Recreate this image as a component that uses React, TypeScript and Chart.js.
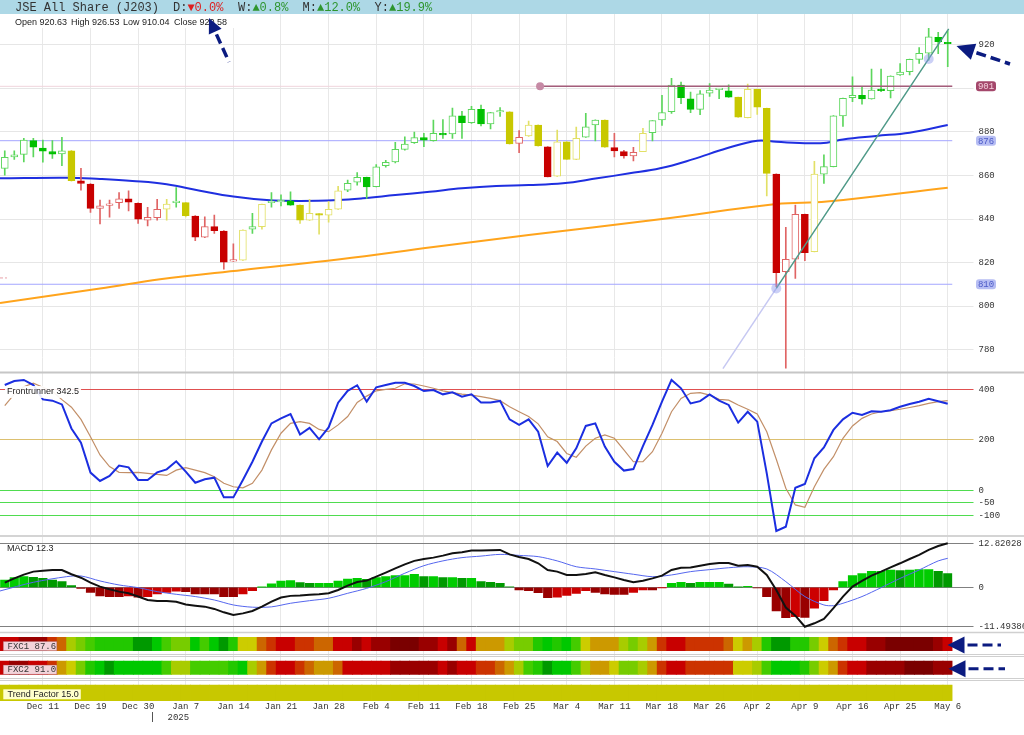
import React, { useEffect, useRef } from 'react';
import { Chart, registerables } from 'chart.js';

Chart.register(...registerables);

// ---------------- data ----------------
const opens = [863.3,868.6,869.7,876.0,872.6,871.0,869.9,871.4,857.5,856.1,
844.9,846.3,847.5,849.3,847.2,839.5,840.6,844.5,847.5,847.5,
841.4,831.6,836.5,834.5,820.6,821.1,835.3,836.5,847.5,847.8,
848.4,846.4,839.5,842.4,841.8,844.5,853.3,856.9,859.2,854.9,
864.5,866.3,872.0,875.1,877.4,876.0,879.4,879.1,887.4,884.3,
890.4,883.7,889.2,889.3,874.8,878.2,883.2,873.2,859.7,875.5,
867.4,877.6,883.2,885.5,872.8,871.0,869.0,871.0,879.7,885.5,
889.3,901.6,895.2,890.4,897.8,899.5,898.9,896.0,886.6,899.6,
890.9,860.7,815.8,821.5,842.2,825.0,860.6,864.1,887.4,895.8,
896.9,895.2,899.3,899.0,906.2,907.7,913.4,916.2,923.5,920.63];

const highs = [871.4,871.4,877.1,877.1,876.3,876.0,877.6,871.6,863.3,856.3,
848.7,848.7,852.1,852.9,847.4,845.4,849.0,849.0,854.4,847.7,
841.6,841.0,841.8,834.7,828.6,835.0,842.6,846.9,852.1,851.1,
852.5,846.5,849.0,842.5,848.0,855.0,857.9,861.3,859.3,865.0,
867.0,875.2,877.8,880.0,879.4,885.5,885.7,891.0,889.5,891.8,
892.4,889.0,891.2,889.4,880.6,885.0,883.3,873.3,880.9,875.6,
882.3,888.6,885.6,885.6,879.4,871.6,873.0,881.7,885.3,896.9,
904.7,903.0,898.3,899.0,902.3,899.7,901.7,896.1,902.0,899.7,
891.0,860.8,836.2,846.4,842.3,866.5,869.5,887.5,895.6,905.4,
900.5,908.9,908.9,905.8,911.5,913.5,918.8,927.7,925.8,926.53];

const lows = [860.2,867.4,866.3,868.5,866.1,867.9,864.5,857.4,853.3,843.0,
837.7,840.8,844.9,843.7,838.0,836.8,839.5,839.5,845.4,841.0,
830.0,831.4,833.4,816.9,820.5,821.0,833.4,835.3,845.4,846.0,
846.3,838.0,839.4,833.0,838.5,844.4,852.6,855.6,849.5,854.8,
863.8,865.8,871.7,874.8,873.2,875.8,877.0,877.0,877.0,884.0,
882.8,881.4,887.2,874.4,870.5,878.0,873.5,859.3,859.6,867.3,
867.3,877.5,875.9,872.9,868.6,868.0,866.7,870.9,875.9,883.0,
888.5,893.0,888.9,888.0,896.4,895.3,895.9,886.7,886.5,888.1,
850.6,808.9,771.4,812.7,820.8,824.9,856.4,864.0,882.6,894.0,
892.8,895.1,898.5,895.7,906.0,906.2,911.5,913.0,916.0,910.04];

const closes = [868.4,869.5,876.3,873.0,871.2,869.8,871.3,857.6,856.4,844.9,
846.0,846.9,849.3,847.7,839.9,840.8,844.5,846.9,847.7,841.5,
831.6,836.5,834.6,820.1,821.1,834.9,836.5,846.8,847.7,848.7,
846.4,839.5,842.6,841.8,844.5,853.0,856.4,859.2,854.8,864.0,
866.1,872.0,874.5,877.4,876.3,879.4,878.6,887.4,884.3,890.4,
883.7,888.9,889.4,874.5,877.6,883.2,873.6,859.4,875.5,867.4,
877.1,882.4,885.5,873.0,871.3,869.0,870.7,879.4,885.2,888.9,
901.6,895.8,890.4,897.5,899.3,899.7,896.0,886.8,899.6,891.4,
861.0,815.3,821.5,842.2,824.5,860.6,864.1,887.4,895.5,896.9,
895.2,899.3,899.0,905.7,907.6,913.4,916.2,923.8,921.5,920.58];

// candle tone per bar: g = green, r = red, y = yellow
const candleTone = ['gggggggyrr','rrrrrrrygy','rrrrrygygg','gyyyyygggg','gggggggggg',
  'gggyryyryy','yggyrrrygg','gggggggyyy','yrrrrygggg','gggggggggg'].join('');

// moving averages (bar index, value)
const ma50X = [-0.5,6.5,10,13.4,17,20.5,24,27.5,31,35,37.6,41,44.6,48,51.6,55,58.6,62.2,65.6,68.8,72.2,75.8,79,81,84.5,86.3,88,91.5,95,99];
const ma50Y = [858.7,859.0,858.4,857.5,856.0,853.0,850.3,848.7,848.3,848.7,849.5,851.0,852.5,854.1,855.2,855.6,856.4,858.7,861.0,863.3,867.4,872.5,876.0,875.5,874.8,875.1,876.6,878.2,879.7,883.2];
const ma200X = [-0.5,10,16.3,25,35.2,45,55,68.8,81,86.3,99];
const ma200Y = [801.4,808.0,812.3,816.6,821.5,827.1,832.6,839.9,846.9,848.0,854.4];

// horizontal levels
const resistanceLevel = 901;
const resistanceFrom = 56.2;
const upperLevel = 876;
const lowerLevel = 810;
const leftMarkLevel = 812.9;

// trend line (bar index, price)
const trendX = [75.4, 81, 97, 99.1];
const trendY = [771.2, 808.1, 913.6, 927.4];

// Frontrunner oscillator
const frontrunner = [417,433,437,417,360,355,340,245,189,70,
37,57,98,91,41,41,71,83,115,74,
30,44,50,-28,-28,41,113,193,265,285,
302,221,247,202,249,347,394,416,351,408,
417,426,426,413,393,397,380,388,371,380,
348,348,354,281,259,281,232,96,149,109,
166,255,265,173,113,78,84,175,259,351,
437,404,344,353,380,355,338,268,311,272,
67,-161,-144,10,25,127,170,239,281,307,
298,313,311,317,331,342,351,362,353,342.5];
const frontrunnerSignal = [335,381,410,424,408,392,359,329,281,212,
140,94,71,70,71,67,63,59,80,90,
80,70,54,28,14,10,28,80,160,226,
265,272,265,241,232,259,292,348,373,394,
400,404,422,421,413,404,394,387,381,377,
371,364,355,331,311,292,263,212,193,146,
131,175,206,219,206,160,113,113,153,226,
311,364,384,387,377,360,357,338,321,302,
232,123,8,-58,-67,14,83,133,206,255,
285,302,311,315,321,328,335,344,351,355];

// MACD
const macdLine = [1.36,2.6,3.7,4.57,4.86,5.05,5.05,3.8,2.8,1.36,
0.2,-0.58,-1.26,-1.75,-2.7,-3.7,-4.0,-4.0,-4.2,-5.0,
-5.35,-5.64,-6.3,-7.3,-8.07,-7.6,-6.9,-5.64,-4.2,-3.0,
-2.5,-2.4,-2.2,-2.04,-1.75,-0.78,0.49,1.55,1.94,3.1,
4.3,5.5,6.7,7.7,8.26,8.65,9.23,9.9,10.2,10.7,
10.7,10.8,10.9,9.6,8.84,8.26,7.0,5.05,4.57,3.6,
3.6,3.9,4.37,3.6,2.9,2.14,1.46,1.94,2.6,3.4,
5.05,5.7,5.8,6.3,6.8,7.1,7.1,6.3,6.5,6.0,
3.6,-0.78,-5.9,-8.26,-11.49386,-10.5,-9.23,-6.1,-2.7,0.19,
1.85,3.4,4.57,5.83,7.0,8.26,9.43,10.9,12.05,12.82028];
const macdHist = [2.14,2.8,3.1,2.9,2.6,2.1,1.65,0.5,-0.3,-1.46,
-2.5,-2.7,-2.7,-2.5,-2.9,-2.7,-1.9,-1.5,-1.1,-1.26,
-1.9,-1.9,-1.9,-2.7,-2.7,-1.9,-1.0,0.05,1.0,1.85,
1.95,1.36,1.17,1.17,1.17,1.85,2.4,2.6,2.3,2.8,
3.1,3.4,3.4,3.8,3.1,3.1,2.8,2.8,2.6,2.6,
1.65,1.46,1.17,0.1,-0.8,-1.0,-1.55,-3.0,-2.9,-2.4,
-1.75,-1.0,-1.46,-1.94,-2.04,-2.04,-1.46,-0.8,-0.8,-0.05,
1.17,1.46,1.17,1.46,1.46,1.46,0.97,0.05,0.3,-0.2,
-2.7,-6.9,-8.86,-8.55,-8.75,-6.1,-3.9,-0.8,1.65,3.4,
4.0,4.66,4.66,5.05,4.86,5.05,5.15,5.15,4.66,4.0];
const signalX = [-0.5,3,6.5,8,10,12,14,16,18,20,22,24,26,28,30,32,34,36,38,40,42,44,46,48,50,52,54,56,58,60,62,64,66,68,70,72,74,76,78,80,82,84,86,87,88,90,92,94,96,98,99];
const signalY = [-1.07,1.46,3.1,3.3,1.85,0.68,-0.1,-1.26,-2.04,-2.7,-3.7,-5.15,-5.8,-5.7,-4.66,-3.9,-3.2,-1.75,-0.3,1.65,4.1,6.3,7.7,8.65,9.1,9.6,9.3,8.94,7.7,6.0,5.35,4.57,3.8,3.1,3.6,4.57,5.15,5.7,6.0,5.35,1.65,-2.7,-5.15,-5.35,-4.66,-2.7,-0.1,2.6,5.05,7.7,8.45];

// heat bands (level code per bar)
const fxc1 = ['ccbbbdehij','kkkkmmljii','ljlmkggedc','cddeeccbcb','baaabbcbec',
  'fffhiiklkl','jgfffhihfd','ccddddegfh','kmmkkigedc','cbbaaaaabc'].join('');
const fxc2 = ['cbbccdfgik','lmllllljhh','jjjjklhfdc','cdeffecccc','cbbbbbcbcc',
  'ddefhjkmll','jhffgiihfd','ccdddddggh','jlllkigfdc','cbbbbaaabb'].join('');
const trendFactor = ['tttttttttt','tttttttttt','tttttttttt','tttttttttt','tttttttttt',
  'tttttttttt','tttttttttt','tttttttttt','tttttttttt','tttttttttt'].join('');

const tickIndex = [4,9,14,19,24,29,34,39,44,49,54,59,64,69,74,79,84,89,94,99];
const tickLabels = ['Dec 11','Dec 19','Dec 30','Jan 7','Jan 14','Jan 21','Jan 28','Feb 4','Feb 11','Feb 18',
  'Feb 25','Mar 4','Mar 11','Mar 18','Mar 26','Apr 2','Apr 9','Apr 16','Apr 25','May 6'];
const priceTicks = [780,800,820,840,860,880,900,920];
const oscTicks = [400,200,0,-50,-100];
const macdTicks = [12.82028,0,-11.49386];

// ---------------- styling ----------------
const MONO = '"Liberation Mono", "DejaVu Sans Mono", monospace';
const SANS = '"Liberation Sans", Arial, sans-serif';
const toneFill: Record<string, string> = { g: '#00c000', r: '#c80000', y: '#c8c800' };
const toneLine: Record<string, string> = { g: '#5cd65c', r: '#e06464', y: '#e2e066' };
const heat: Record<string, string> = {
  a: '#7a0000', b: '#990000', c: '#c80000', d: '#cc3300', e: '#cc6600', f: '#cc9900',
  g: '#cccc00', h: '#a8cc00', i: '#77cc00', j: '#44cc00', k: '#22c800', l: '#00c800', m: '#009900',
  t: '#c8c800',
};
const bandRows = { fxc1: [4.8, 18.2], fxc2: [28.5, 41.8], trend: [52.5, 68.5] };

const idx = opens.map((_, i) => i);
const hollow = idx.map((i) => closes[i] >= opens[i]);

const histColor = macdHist.map((v, i) => {
  const prev = i > 0 ? macdHist[i - 1] : v;
  if (v >= 0) return v >= prev ? '#00cc00' : '#009a00';
  return v <= prev ? '#990000' : '#cc0000';
});

const overlay = {
  id: 'overlay',
  beforeDraw(chart: any) {
    const c = chart.ctx;
    c.save();
    c.fillStyle = '#ffffff';
    c.fillRect(0, 0, chart.width, chart.height);
    c.fillStyle = '#add8e6';
    c.fillRect(0, 0, chart.width, 14);
    c.font = '12px ' + MONO;
    c.textBaseline = 'middle';
    const segs: [string, number, string][] = [
      ['JSE All Share (J203)', 15, '#333'], ['D:', 173, '#333'], ['\u25BC0.0%', 187.4, '#dd1f1f'],
      ['W:', 238, '#333'], ['\u25B20.8%', 252.4, '#2e952e'], ['M:', 302.6, '#333'],
      ['\u25B212.0%', 317, '#2e952e'], ['Y:', 374.6, '#333'], ['\u25B219.9%', 389, '#2e952e'],
    ];
    for (const [t, x, col] of segs) { c.fillStyle = col; c.fillText(t, x, 7.5); }
    c.restore();
  },
  afterDraw(chart: any) {
    const c = chart.ctx;
    const W = chart.width;
    const { x, yP, yO, yM, yB } = chart.scales;
    c.save();
    const hline = (y: number, col: string, lw: number) => {
      c.strokeStyle = col; c.lineWidth = lw; c.setLineDash([]);
      c.beginPath(); c.moveTo(0, y); c.lineTo(W, y); c.stroke();
    };
    hline(yP.bottom, '#c6c6c6', 2);
    hline(yO.bottom + 1, '#d4d4d4', 2);
    hline(yM.bottom, '#d0d0d0', 1.5);
    [21.5, 23.5, 45.8, 47.5].forEach((v) => hline(Math.round(yB.getPixelForValue(v)) + 0.5, '#cfcfcf', 1));

    // small level stub at the left edge
    const ly = yP.getPixelForValue(leftMarkLevel);
    c.strokeStyle = '#e8a0a8'; c.lineWidth = 1; c.setLineDash([3, 2]);
    c.beginPath(); c.moveTo(0, ly); c.lineTo(7, ly); c.stroke();
    c.setLineDash([]);

    // OHLC readout
    c.fillStyle = '#ffffff';
    c.fillRect(0, yP.top, 236, 14);
    c.font = '9px ' + SANS;
    c.textBaseline = 'middle';
    c.fillStyle = '#222';
    const oy = yP.top + 9;
    c.fillText('Open ' + opens[99].toFixed(2), 15, oy);
    c.fillText('High ' + highs[99].toFixed(2), 71, oy);
    c.fillText('Low ' + lows[99].toFixed(2), 123, oy);
    c.fillText('Close ' + closes[99].toFixed(2), 174, oy);

    // price tags
    const tag = (text: string, v: number, bg: string, fg: string) => {
      const yc = yP.getPixelForValue(v);
      c.fillStyle = bg;
      c.beginPath();
      (c as any).roundRect(976, yc - 5, 20, 10, 3);
      c.fill();
      c.fillStyle = fg;
      c.font = '9px ' + MONO;
      c.textAlign = 'center';
      c.textBaseline = 'middle';
      c.fillText(text, 986, yc + 0.5);
      c.textAlign = 'left';
    };
    tag(String(resistanceLevel), resistanceLevel, '#a4476b', '#f6d2de');
    tag(String(upperLevel), upperLevel, '#b6bdf3', '#4d5bc8');
    tag(String(lowerLevel), lowerLevel, '#b6bdf3', '#4d5bc8');

    // panel labels
    const fr = 'Frontrunner ' + frontrunner[frontrunner.length - 1];
    c.font = '9px ' + SANS;
    c.fillStyle = 'rgba(255,255,255,0.9)';
    c.fillRect(5, yO.top + 13.5, c.measureText(fr).width + 4, 12);
    c.fillStyle = '#222';
    c.fillText(fr, 7, yO.top + 19.5);
    c.fillText('MACD 12.3', 7, yM.top + 13.5);

    // band labels
    const bandLabel = (text: string, row: number[], bg: string, font: string, w: number) => {
      const y1 = yB.getPixelForValue(row[1]);
      c.fillStyle = bg;
      c.fillRect(3.3, y1 - 9.2, w, 9.2);
      c.strokeStyle = 'rgba(150,80,90,0.35)';
      c.lineWidth = 0.8;
      c.strokeRect(3.3, y1 - 9.2, w, 9.2);
      c.fillStyle = '#333';
      c.font = font;
      c.fillText(text, 7.5, y1 - 4.3);
    };
    bandLabel('FXC1 87.6', bandRows.fxc1, '#f3d3da', '9px ' + MONO, 53.5);
    bandLabel('FXC2 91.0', bandRows.fxc2, '#f3d3da', '9px ' + MONO, 53.5);
    const ty = yB.getPixelForValue(bandRows.trend[0]);
    c.fillStyle = '#ffffcc';
    c.fillRect(3.3, ty + 4.3, 77.5, 10);
    c.fillStyle = '#222';
    c.font = '9px ' + SANS;
    c.fillText('Trend Factor 15.0', 7.5, ty + 9.5);

    // year marker
    const yx = Math.round(x.getPixelForValue(15.5)) + 0.5;
    c.strokeStyle = '#555'; c.lineWidth = 1;
    c.beginPath(); c.moveTo(yx, 712); c.lineTo(yx, 722); c.stroke();
    c.fillStyle = '#333'; c.font = '9px ' + MONO;
    c.fillText('2025', yx + 15, 717.5);

    // annotation arrows
    const arrow = (tx: number, ty2: number, sx: number, sy: number, hl: number, hw: number, lw: number) => {
      const a = Math.atan2(sy - ty2, sx - tx);
      const ca = Math.cos(a), sa = Math.sin(a);
      const bx = tx + ca * hl, by = ty2 + sa * hl;
      c.strokeStyle = '#0b1b80'; c.fillStyle = '#0b1b80';
      c.lineWidth = lw; c.setLineDash([10, 5]); c.lineCap = 'butt';
      c.beginPath(); c.moveTo(bx + ca * 3, by + sa * 3); c.lineTo(sx, sy); c.stroke();
      c.setLineDash([]);
      c.beginPath();
      c.moveTo(tx, ty2);
      c.lineTo(bx - sa * hw / 2, by + ca * hw / 2);
      c.lineTo(bx + sa * hw / 2, by - ca * hw / 2);
      c.closePath(); c.fill();
    };
    arrow(209, 18, 229, 62, 15, 14, 3.5);
    arrow(x.right + 4, yP.getPixelForValue(919.5), 1010, 64, 18, 17, 3.5);
    const f1 = yB.getPixelForValue((bandRows.fxc1[0] + bandRows.fxc1[1]) / 2) + 1;
    const f2 = yB.getPixelForValue((bandRows.fxc2[0] + bandRows.fxc2[1]) / 2) + 1;
    arrow(x.right - 5, f1, 1001, f1, 17, 17, 3);
    arrow(x.right - 4, f2, 1005, f2, 17, 17, 3);
    c.restore();
  },
};

function buildConfig(): any {
  const pts = (arr: number[]) => arr.map((v, i) => ({ x: i, y: v }));
  const pairs = (xs: number[], ys: number[]) => xs.map((v, i) => ({ x: v, y: ys[i] }));
  const tickFont = { family: MONO, size: 9 };
  const fixWidth = (s: any) => { s.width = 71.5; };

  const datasets: any[] = [
    {
      type: 'line', yAxisID: 'yP', order: 1, data: pairs(trendX, trendY),
      borderWidth: 1.5, borderColor: '#4f9a88',
      segment: { borderColor: (ctx: any) => (ctx.p0DataIndex === 0 ? '#c6c8f2' : '#4f9a88') },
      pointRadius: [0, 5, 5, 0], pointBackgroundColor: 'rgba(140,150,235,0.45)', pointBorderWidth: 0,
    },
    {
      type: 'line', yAxisID: 'yP', order: 2,
      data: [{ x: resistanceFrom, y: resistanceLevel }, { x: 99.5, y: resistanceLevel }],
      borderColor: '#a35d7a', borderWidth: 1.5,
      pointRadius: [4, 0], pointBackgroundColor: '#c68aa5', pointBorderWidth: 0,
    },
    {
      type: 'bar', yAxisID: 'yP', order: 3, grouped: false,
      data: idx.map((i) => ({ x: i, y: [opens[i], closes[i]] })),
      barThickness: 7, minBarLength: 1.5, borderSkipped: false, borderWidth: 1,
      backgroundColor: idx.map((i) => (hollow[i] ? '#ffffff' : toneFill[candleTone[i]])),
      borderColor: idx.map((i) => (hollow[i] ? toneLine[candleTone[i]] : toneFill[candleTone[i]])),
    },
    {
      type: 'bar', yAxisID: 'yP', order: 4, grouped: false,
      data: idx.map((i) => ({ x: i, y: [lows[i], highs[i]] })),
      barThickness: 1, borderWidth: 0,
      backgroundColor: idx.map((i) => toneLine[candleTone[i]]),
    },
    {
      type: 'line', yAxisID: 'yP', order: 5, data: pairs(ma50X, ma50Y),
      borderColor: '#1f2fe0', borderWidth: 2, pointRadius: 0, tension: 0.4,
    },
    {
      type: 'line', yAxisID: 'yP', order: 6, data: pairs(ma200X, ma200Y),
      borderColor: '#ffa41c', borderWidth: 2, pointRadius: 0, tension: 0.4,
    },
    {
      type: 'line', yAxisID: 'yP', order: 7,
      data: [{ x: -0.5, y: upperLevel }, { x: 99.5, y: upperLevel }],
      borderColor: '#a4a6ff', borderWidth: 1, pointRadius: 0,
    },
    {
      type: 'line', yAxisID: 'yP', order: 7,
      data: [{ x: -0.5, y: lowerLevel }, { x: 99.5, y: lowerLevel }],
      borderColor: '#a4a6ff', borderWidth: 1, pointRadius: 0,
    },
    {
      type: 'line', yAxisID: 'yP', order: 8,
      data: [{ x: -0.5, y: resistanceLevel }, { x: 99.5, y: resistanceLevel }],
      borderColor: '#f0d4dc', borderWidth: 1, pointRadius: 0,
    },
    {
      type: 'line', yAxisID: 'yO', order: 1, data: pts(frontrunner),
      borderColor: '#1b2ee0', borderWidth: 2, pointRadius: 0,
    },
    {
      type: 'line', yAxisID: 'yO', order: 2, data: pts(frontrunnerSignal),
      borderColor: '#c28f68', borderWidth: 1.2, pointRadius: 0,
    },
    {
      type: 'line', yAxisID: 'yM', order: 1, data: pts(macdLine),
      borderColor: '#111111', borderWidth: 2, pointRadius: 0,
    },
    {
      type: 'line', yAxisID: 'yM', order: 2, data: pairs(signalX, signalY),
      borderColor: '#5566ee', borderWidth: 1, pointRadius: 0, tension: 0.3,
    },
    {
      type: 'bar', yAxisID: 'yM', order: 3, grouped: false,
      data: pts(macdHist), barThickness: 8.5, borderWidth: 0,
      backgroundColor: histColor,
    },
    {
      type: 'bar', yAxisID: 'yB', order: 1, grouped: false,
      data: idx.map((i) => ({ x: i, y: bandRows.fxc1 })), barThickness: 9.7, borderWidth: 0,
      backgroundColor: idx.map((i) => heat[fxc1[i]]),
    },
    {
      type: 'bar', yAxisID: 'yB', order: 1, grouped: false,
      data: idx.map((i) => ({ x: i, y: bandRows.fxc2 })), barThickness: 9.7, borderWidth: 0,
      backgroundColor: idx.map((i) => heat[fxc2[i]]),
    },
    {
      type: 'bar', yAxisID: 'yB', order: 1, grouped: false,
      data: idx.map((i) => ({ x: i, y: bandRows.trend })), barThickness: 9.7, borderWidth: 0,
      backgroundColor: idx.map((i) => heat[trendFactor[i]]),
    },
  ];

  return {
    type: 'bar',
    data: { datasets },
    plugins: [overlay],
    options: {
      animation: false,
      responsive: false,
      maintainAspectRatio: false,
      events: [],
      layout: { autoPadding: false, padding: { top: 14, left: 0, right: 0, bottom: 0 } },
      plugins: { legend: { display: false }, tooltip: { enabled: false } },
      scales: {
        x: {
          type: 'linear', position: 'bottom', min: -0.5, max: 99.5, offset: false,
          grid: { color: '#e8e8e8', drawTicks: false, offset: false },
          border: { display: false },
          afterBuildTicks: (s: any) => { s.ticks = tickIndex.map((v) => ({ value: v })); },
          afterFit: (s: any) => { s.height = 34; s.paddingLeft = 0; s.paddingRight = 0; },
          ticks: {
            autoSkip: false, maxRotation: 0, padding: 0, color: '#333', font: tickFont,
            callback: (v: number) => tickLabels[tickIndex.indexOf(v)] ?? '',
          },
        },
        yP: {
          type: 'linear', position: 'right', stack: 'panes', stackWeight: 358.5, weight: 0,
          min: 769.43, max: 934.25,
          afterBuildTicks: (s: any) => { s.ticks = priceTicks.map((v) => ({ value: v })); },
          afterFit: fixWidth,
          grid: { color: '#e6e6e6', tickLength: 21, drawTicks: true },
          border: { display: false },
          ticks: { padding: 5, color: '#333', font: tickFont },
        },
        yO: {
          type: 'linear', position: 'right', stack: 'panes', stackWeight: 162.5, weight: 1,
          min: -177, max: 466.5,
          afterBuildTicks: (s: any) => { s.ticks = oscTicks.map((v) => ({ value: v })); },
          afterFit: fixWidth,
          grid: {
            tickLength: 21, drawTicks: true,
            color: (ctx: any) => {
              const v = ctx.tick ? ctx.tick.value : 0;
              return v === 400 ? '#e05050' : v === 200 ? '#dcc070' : '#4fdc4f';
            },
          },
          border: { display: false },
          ticks: { padding: 5, color: '#333', font: tickFont },
        },
        yM: {
          type: 'linear', position: 'right', stack: 'panes', stackWeight: 97.5, weight: 2,
          min: -13.18, max: 15.25,
          afterBuildTicks: (s: any) => { s.ticks = macdTicks.map((v) => ({ value: v })); },
          afterFit: fixWidth,
          grid: { color: '#808080', tickLength: 21, drawTicks: true },
          border: { display: false },
          ticks: {
            padding: 5, color: '#333', font: tickFont,
            callback: (v: number) => (v === 0 ? '0' : v.toFixed(5)),
          },
        },
        yB: {
          type: 'linear', position: 'right', stack: 'panes', stackWeight: 68.5, weight: 3,
          min: 0, max: 68.5, reverse: true,
          afterFit: fixWidth,
          grid: { display: false },
          border: { display: false },
          ticks: { display: false },
        },
      },
    },
  };
}

export default function App() {
  const ref = useRef<HTMLCanvasElement>(null);
  useEffect(() => {
    const chart = new Chart(ref.current as HTMLCanvasElement, buildConfig());
    return () => chart.destroy();
  }, []);
  return (
    <canvas
      ref={ref}
      width={1024}
      height={735}
      style={{ position: 'absolute', left: 0, top: 0, width: 1024, height: 735, display: 'block' }}
    />
  );
}
